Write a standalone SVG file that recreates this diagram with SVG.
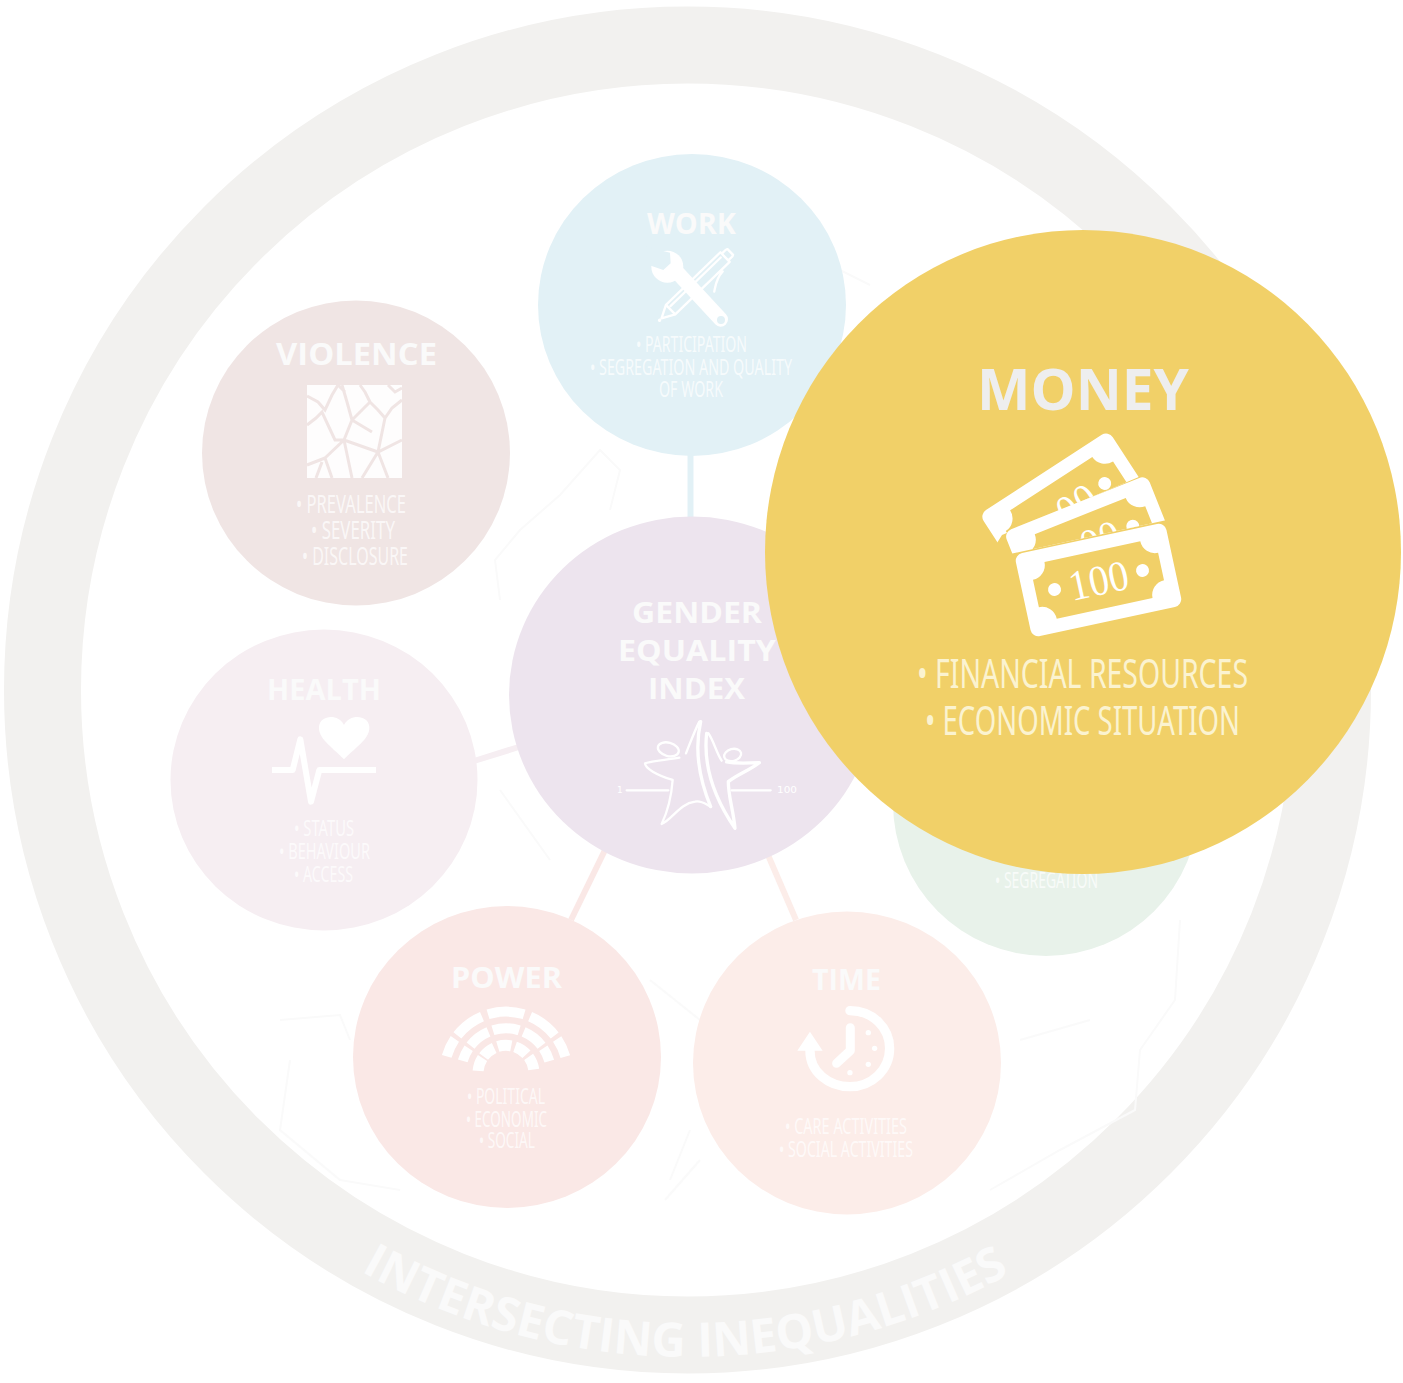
<svg xmlns="http://www.w3.org/2000/svg" width="1403" height="1383" viewBox="0 0 1403 1383">
<style>
.t{font-family:"Open Sans","Noto Sans","Liberation Sans",sans-serif;font-weight:700;fill:#fafafa;text-anchor:start}
.b{font-family:"Liberation Sans Narrow","Noto Sans","Liberation Sans",sans-serif;fill:#fff;fill-opacity:.72;text-anchor:start}
.w{fill:#fff}
.wl{fill:none;stroke:#fff;stroke-linecap:round;stroke-linejoin:round}
.map{fill:none;stroke:#fafafa;stroke-width:2}
.c{stroke-width:6;fill:none}
.dot{fill:#fff}
</style>
<defs>
<path id="ringpath" d="M 147 1080 A 666 666 0 0 0 1228 1080"/>
<clipPath id="clipmid"><polygon points="980,420 1190,420 1190,515 1010,554 1012,560 980,560"/></clipPath>
<clipPath id="clipback"><polygon points="960,420 1160,420 1160,468 1002,535 997,543 960,552"/></clipPath>
<g id="note">
<rect x="-77" y="-42.500" width="154" height="85" rx="8" fill="#fff"/>
<path fill="#f1d068" d="M-49,-29 H49 A15,15 0 0 0 64,-14 V14 A15,15 0 0 0 49,29 H-49 A15,15 0 0 0 -64,14 V-14 A15,15 0 0 0 -49,-29Z"/>
<circle cx="-45" cy="0" r="6.500" fill="#fff"/><circle cx="45" cy="0" r="6.500" fill="#fff"/>
</g>
</defs>
<rect width="1403" height="1383" fill="#fff"/>
<g id="ring">
<circle cx="687.500" cy="690" r="645" fill="none" stroke="#f2f1ef" stroke-width="77"/>
<text font-family="Open Sans,Noto Sans,sans-serif" font-weight="700" font-size="47.500" fill="#fafafa"><textPath href="#ringpath" startOffset="49.800%" text-anchor="middle">INTERSECTING INEQUALITIES</textPath></text>
</g>
<g id="map">
<path class="map" d="M500 600 L495 560 520 530 560 495 600 450 620 470 610 510"/>
<path class="map" d="M280 1020 L340 1015 350 1040 M290 1060 L280 1130 340 1180 400 1190"/>
<path class="map" d="M650 980 L700 1020 720 1000 M670 1180 L690 1130 M665 1200 L700 1160"/>
<path class="map" d="M1180 920 L1175 1000 1140 1050 1135 1110 1060 1150 990 1190 M1020 1040 L1090 1020"/>
<path class="map" d="M500 790 L550 860 M870 285 L840 270"/>
</g>
<g id="connectors">
<line class="c" x1="690.500" y1="450" x2="690.500" y2="525" stroke="#e2f1f6"/>
<line class="c" x1="474" y1="761" x2="522" y2="746" stroke="#f6eef2"/>
<line class="c" x1="571" y1="920" x2="605" y2="850" stroke="#fae8e6"/>
<line class="c" x1="796" y1="920" x2="768" y2="855" stroke="#fcede9"/>
</g>
<g id="node-work">
<ellipse cx="692" cy="305" rx="154" ry="151" fill="#e2f1f6"/>
<text class="t" x="647" y="234" font-size="28" textLength="89" lengthAdjust="spacingAndGlyphs">WORK</text>
<g transform="translate(580,200) scale(.3333)">
<g transform="translate(338,265) rotate(-44)">
<path class="wl" stroke-width="7" d="M-130,0 L-92,-20 H135 V20 H-92 Z M-92,-20 V20 M135,-14 H152 L157,-12 V12 L152,14 H135 M100,26 C70,28 55,42 40,52"/>
<path d="M-85,-8 H125" class="wl" stroke-width="7"/>
<circle cx="-138" cy="0" r="5" class="w"/>
</g>
<path class="wl" stroke-width="44" d="M290,215 L422,358"/>
<circle cx="262" cy="200" r="48" class="w"/>
<polygon points="200,140 270,158 272,190 250,210 213,197" fill="#e2f1f6"/>
<circle cx="423" cy="360" r="12" fill="#e2f1f6"/>
</g>
<text class="b" x="636" y="352" font-size="21" textLength="111" lengthAdjust="spacingAndGlyphs">• PARTICIPATION</text>
<text class="b" x="590" y="375" font-size="21" textLength="202" lengthAdjust="spacingAndGlyphs">• SEGREGATION AND QUALITY</text>
<text class="b" x="659" y="397" font-size="21" textLength="64" lengthAdjust="spacingAndGlyphs">OF WORK</text>
</g>
<g id="node-violence">
<ellipse cx="356" cy="453" rx="154" ry="152.500" fill="#f0e5e4"/>
<text class="t" x="276" y="365" font-size="31" textLength="161" lengthAdjust="spacingAndGlyphs">VIOLENCE</text>
<rect x="307" y="385" width="95" height="93" class="w" opacity=".92"/>
<path fill="none" stroke="#f0e5e4" stroke-width="3" d="M307 396 L318 402 325 410 332 395 338 385 M338 385 L345 392 M342 385 L347 402 352 420 344 440 M307 425 L316 418 322 412 328 425 335 440 344 440 M344 440 L352 478 M344 440 L378 452 L402 440 M352 420 L362 410 370 402 378 410 385 418 392 408 402 400 M370 402 L365 392 360 385 M378 452 L362 478 M344 440 L325 458 M325 458 L307 465 M325 458 L332 478 M378 452 L388 478 M385 418 L378 452 M352 420 L372 432 M316 478 L322 462 M388 385 L395 392 402 388"/>
<text class="b" x="296" y="513" font-size="26" textLength="110" lengthAdjust="spacingAndGlyphs">• PREVALENCE</text>
<text class="b" x="311" y="539" font-size="26" textLength="84" lengthAdjust="spacingAndGlyphs">• SEVERITY</text>
<text class="b" x="302" y="565" font-size="26" textLength="106" lengthAdjust="spacingAndGlyphs">• DISCLOSURE</text>
</g>
<g id="node-health">
<ellipse cx="324" cy="780" rx="153.500" ry="150.500" fill="#f6eef2"/>
<text class="t" x="267" y="700" font-size="28" textLength="114" lengthAdjust="spacingAndGlyphs">HEALTH</text>
<g transform="translate(240,670) scale(.3333)">
<path class="w" d="M312,268 C270,225 235,205 237,170 C240,135 295,130 312,165 C330,130 385,135 388,170 C390,205 355,225 312,268 Z"/>
<path class="wl" stroke-width="18" style="stroke-linecap:butt" d="M96,300 H158 L181,208 L213,395 L238,300 H408"/>
</g>
<text class="b" x="294" y="836" font-size="21" textLength="60" lengthAdjust="spacingAndGlyphs">• STATUS</text>
<text class="b" x="279" y="859" font-size="21" textLength="91" lengthAdjust="spacingAndGlyphs">• BEHAVIOUR</text>
<text class="b" x="294" y="882" font-size="21" textLength="59" lengthAdjust="spacingAndGlyphs">• ACCESS</text>
</g>
<g id="node-power">
<ellipse cx="507" cy="1057" rx="154" ry="151" fill="#fae8e6"/>
<text class="t" x="451" y="988" font-size="28" textLength="111" lengthAdjust="spacingAndGlyphs">POWER</text>
<g transform="translate(420,960) scale(.3333)" fill="none" stroke="#fff">
<circle cx="258" cy="340" r="185" stroke-width="30" pathLength="360" stroke-dasharray="18 4 29 6 34 6 29 4 18 212" transform="rotate(196 258 340)"/>
<circle cx="258" cy="340" r="135" stroke-width="30" pathLength="360" stroke-dasharray="18 4 29 6 34 6 29 4 18 212" transform="rotate(196 258 340)"/>
<circle cx="258" cy="340" r="84" stroke-width="33" pathLength="360" stroke-dasharray="28 4 28 8 28 8 28 7 28 193" transform="rotate(185 258 340)"/>
</g>
<text class="b" x="467" y="1104" font-size="21" textLength="78" lengthAdjust="spacingAndGlyphs">• POLITICAL</text>
<text class="b" x="466" y="1127" font-size="21" textLength="81" lengthAdjust="spacingAndGlyphs">• ECONOMIC</text>
<text class="b" x="479" y="1148" font-size="21" textLength="56" lengthAdjust="spacingAndGlyphs">• SOCIAL</text>
</g>
<g id="node-time">
<ellipse cx="847" cy="1063" rx="154" ry="151.500" fill="#fcede9"/>
<text class="t" x="812" y="990" font-size="28" textLength="69" lengthAdjust="spacingAndGlyphs">TIME</text>
<g transform="translate(420,960) scale(.3333)">
<path class="wl" stroke-width="28" d="M1290,152 C1360,152 1409,205 1409,265 C1409,330 1355,380 1290,380 C1225,380 1170,335 1170,272"/>
<polygon class="w" points="1132,272 1208,272 1170,215"/>
<path class="wl" stroke-width="27" d="M1291,203 V272 L1250,310"/>
<circle class="dot" cx="1345" cy="218" r="8"/><circle class="dot" cx="1364" cy="265" r="8"/><circle class="dot" cx="1345" cy="313" r="8"/><circle class="dot" cx="1290" cy="338" r="8"/>
</g>
<text class="b" x="785" y="1134" font-size="21" textLength="122" lengthAdjust="spacingAndGlyphs">• CARE ACTIVITIES</text>
<text class="b" x="779" y="1157" font-size="21" textLength="134" lengthAdjust="spacingAndGlyphs">• SOCIAL ACTIVITIES</text>
</g>
<g id="node-green">
<circle cx="1046" cy="803" r="153" fill="#e8f2ea"/>
<text class="b" x="995" y="888" font-size="21" textLength="103" lengthAdjust="spacingAndGlyphs">• SEGREGATION</text>
</g>
<g id="node-index">
<ellipse cx="692" cy="695" rx="183" ry="178.500" fill="#ede4ee"/>
<text class="t" x="632" y="623" font-size="29" textLength="130" lengthAdjust="spacingAndGlyphs">GENDER</text>
<text class="t" x="618" y="661" font-size="29" textLength="158" lengthAdjust="spacingAndGlyphs">EQUALITY</text>
<text class="t" x="648" y="699" font-size="29" textLength="97" lengthAdjust="spacingAndGlyphs">INDEX</text>
<g transform="translate(600,590) scale(.3333)" class="wl" stroke-width="7">
<ellipse cx="205" cy="478" rx="32" ry="20" transform="rotate(15 205 478)"/>
<ellipse cx="398" cy="495" rx="26" ry="18" transform="rotate(-15 398 495)"/>
<path d="M238,503 C200,510 160,512 135,520 C135,535 170,555 218,570 C215,610 205,660 185,702 C215,690 240,640 285,635 C305,630 320,645 332,650"/>
<path d="M298,395 C285,420 270,460 258,490"/>
<path stroke-width="10" d="M302,395 C285,470 295,560 332,650"/>
<path stroke-width="10" d="M320,430 C310,520 340,620 405,715 C400,660 385,620 385,575 C410,555 450,540 478,518 C440,520 400,520 380,516"/>
<path d="M325,430 C340,450 350,490 365,512"/>
<path d="M80,601 H205 M395,601 H512"/>
</g>
<text x="617" y="793" font-family="DejaVu Sans,sans-serif" font-size="9" fill="#fff">1</text>
<text x="777" y="793" font-family="DejaVu Sans,sans-serif" font-size="9" fill="#fff" textLength="20" lengthAdjust="spacingAndGlyphs">100</text>
</g>
<g id="node-money">
<ellipse cx="1083" cy="552" rx="318" ry="322" fill="#f1d068"/>
<text x="977" y="410" font-family="Open Sans,Noto Sans,sans-serif" font-weight="700" font-size="57" fill="#eeeeee" textLength="212" lengthAdjust="spacingAndGlyphs">MONEY</text>
<g clip-path="url(#clipback)"><g transform="translate(1067,508) rotate(-33)"><use href="#note"/><text x="-10" y="17" font-family="Liberation Serif,serif" font-size="43" fill="#fff" textLength="40" lengthAdjust="spacingAndGlyphs">00</text></g></g>
<g clip-path="url(#clipmid)"><g transform="translate(1091,543) rotate(-21.800)"><use href="#note"/><text x="-10" y="15" font-family="Liberation Serif,serif" font-size="43" fill="#fff" textLength="40" lengthAdjust="spacingAndGlyphs">00</text></g></g>
<g transform="translate(1098.500,580) rotate(-12.200)"><use href="#note"/><text x="-30" y="15" font-family="Liberation Serif,serif" font-size="43" fill="#fff" textLength="60" lengthAdjust="spacingAndGlyphs">100</text></g>
<text x="917" y="688" font-family="Liberation Sans Narrow,Noto Sans,sans-serif" font-size="40" fill="#fbf3d0" textLength="331" lengthAdjust="spacingAndGlyphs">• FINANCIAL RESOURCES</text>
<text x="925" y="735" font-family="Liberation Sans Narrow,Noto Sans,sans-serif" font-size="40" fill="#fbf3d0" textLength="315" lengthAdjust="spacingAndGlyphs">• ECONOMIC SITUATION</text>
</g>
</svg>
